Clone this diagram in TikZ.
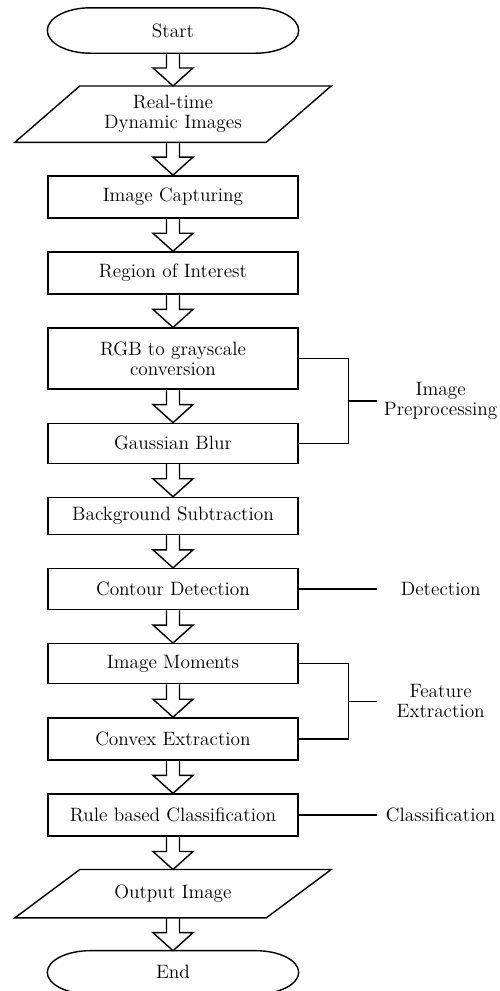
\documentclass[tikz,border=0pt]{standalone}
\usepackage{tikz}
\usetikzlibrary{positioning,calc}

\begin{document}
\begin{tikzpicture}[node distance=0.655cm, line width=0.8pt,
    every node/.style={font=\fontsize{11}{11.5}\selectfont},
    term/.style={rectangle, minimum width=5cm, minimum height=0.88cm},
    io/.style={rectangle, minimum width=5cm, align=center},
    proc/.style={rectangle, draw, minimum width=5cm, minimum height=0.84cm, align=center, inner sep=1pt},
    note/.style={text width=2.56cm, align=center, inner sep=0pt, outer sep=0pt},
    blockarrow/.style={to path={let \p1=(\tikztostart), \p2=(\tikztotarget) in
        (\x1-0.13cm,\y1) -- (\x1-0.13cm,\y2+0.36cm) -- (\x1-0.4cm,\y2+0.36cm) -- (\x1,\y2)
        -- (\x1+0.4cm,\y2+0.36cm) -- (\x1+0.13cm,\y2+0.36cm) -- (\x1+0.13cm,\y1)}}]
    \useasboundingbox (0,0) rectangle (10,-19.82);

    \node[term] (start) at (3.46,-0.61) {Start};
    \node[io, minimum height=1.1cm] (inp) [below=of start] {Real-time\\Dynamic Images};
    \node[proc] (cap) [below=of inp] {Image Capturing};
    \node[proc] (roi) [below=of cap] {Region of Interest};
    \node[proc, minimum height=1.22cm] (rgb) [below=of roi] {RGB to grayscale\\conversion};
    \node[proc, minimum height=0.8cm] (gb) [below=of rgb] {Gaussian Blur};
    \node[proc, minimum height=0.74cm] (bs) [below=of gb] {Background Subtraction};
    \node[proc, minimum height=0.82cm] (cd) [below=of bs] {Contour Detection};
    \node[proc, minimum height=0.8cm] (im) [below=of cd] {Image Moments};
    \node[proc] (ce) [below=of im] {Convex Extraction};
    \node[proc] (rbc) [below=of ce] {Rule based Classification};
    \node[io, minimum height=0.94cm] (out) [below=of rbc] {Output Image};
    \node[term, minimum height=0.84cm] (end) [below=of out] {End};

    % outlines of the start/end and input/output nodes
    \foreach \s in {start,end}
        \draw let \p1=($(\s.north)-(\s.south)$) in
            ([xshift=0.86cm]\s.north west) -- ([xshift=-0.86cm]\s.north east)
            arc[start angle=90, end angle=-90, x radius=0.86cm, y radius=0.5*\y1]
            -- ([xshift=0.86cm]\s.south west)
            arc[start angle=270, end angle=90, x radius=0.86cm, y radius=0.5*\y1] -- cycle;
    \foreach \s in {inp,out}
        \draw ([xshift=0.65cm]\s.north west) -- ([xshift=0.65cm]\s.north east)
            -- ([xshift=-0.65cm]\s.south east) -- ([xshift=-0.65cm]\s.south west) -- cycle;

    \path
        (start.south) edge[blockarrow] (inp.north)
        (inp.south) edge[blockarrow] (cap.north)
        (cap.south) edge[blockarrow] (roi.north)
        (roi.south) edge[blockarrow] (rgb.north)
        (rgb.south) edge[blockarrow] (gb.north)
        (gb.south) edge[blockarrow] (bs.north)
        (bs.south) edge[blockarrow] (cd.north)
        (cd.south) edge[blockarrow] (im.north)
        (im.south) edge[blockarrow] (ce.north)
        (ce.south) edge[blockarrow] (rbc.north)
        (rbc.south) edge[blockarrow] (out.north)
        (out.south) edge[blockarrow] (end.north);

    % stage labels on the right
    \draw (rgb.east) -- ++(1cm,0) |- (gb.east);
    \coordinate (prep) at ($(rgb.east)!0.5!(gb.east)+(1cm,0)$);
    \node[note, right=0.56cm of prep] (prepL) {Image\\Preprocessing};
    \draw (prep) -- (prepL);

    \node[note, right=1.56cm of cd] (detL) {Detection};
    \draw (cd) -- (detL);

    \draw (im.east) -- ++(1cm,0) |- (ce.east);
    \coordinate (feat) at ($(im.east)!0.5!(ce.east)+(1cm,0)$);
    \node[note, right=0.56cm of feat] (featL) {Feature\\Extraction};
    \draw (feat) -- (featL);

    \node[note, right=1.56cm of rbc] (clsL) {Classification};
    \draw (rbc) -- (clsL);
\end{tikzpicture}
\end{document}
